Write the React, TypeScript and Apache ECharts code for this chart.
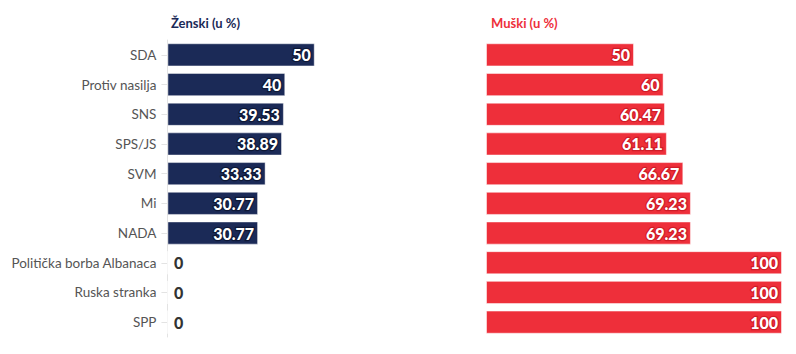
import React, { useEffect, useRef } from "react";
import * as echarts from "echarts";

const categories = [
  "SDA",
  "Protiv nasilja",
  "SNS",
  "SPS/JS",
  "SVM",
  "Mi",
  "NADA",
  "Politička borba Albanaca",
  "Ruska stranka",
  "SPP",
];
const female = [50, 40, 39.53, 38.89, 33.33, 30.77, 30.77, 0, 0, 0];
const male = [50, 60, 60.47, 61.11, 66.67, 69.23, 69.23, 100, 100, 100];
const titles = ["Ženski (u %)", "Muški (u %)"];

const NAVY = "#1b2a57";
const RED = "#ee2f3a";
const FONT = "Lato, 'Noto Sans', sans-serif";

function mkData(vals: number[]) {
  return vals.map((v) =>
    v === 0
      ? {
          value: v,
          label: {
            position: "right",
            color: "#333",
            textBorderWidth: 0,
            distance: 6,
          },
        }
      : { value: v }
  );
}

export default function App() {
  const ref = useRef<HTMLDivElement>(null);
  useEffect(() => {
    if (!ref.current) return;
    const chart = echarts.init(ref.current, undefined, { renderer: "svg" });
    const labelBase = (border: string) => ({
      show: true,
      position: "insideRight",
      distance: 4,
      color: "#fff",
      fontFamily: FONT,
      fontWeight: 900,
      fontSize: 16,
      textBorderColor: border,
      textBorderWidth: 2.5,
      formatter: (p: any) => String(p.value),
    });
    chart.setOption({
      animation: false,
      textStyle: { fontFamily: FONT },
      title: [
        {
          text: titles[0],
          left: 158,
          top: 3,
          textStyle: { color: NAVY, fontSize: 13, fontWeight: "bold", fontFamily: FONT },
        },
        {
          text: titles[1],
          left: 478,
          top: 3,
          textStyle: { color: RED, fontSize: 13, fontWeight: "bold", fontFamily: FONT },
        },
      ],
      grid: [
        { left: 158, width: 296, top: 32, height: 297 },
        { left: 478, width: 296, top: 32, height: 297 },
      ],
      xAxis: [
        { gridIndex: 0, type: "value", min: 0, max: 100, show: false },
        { gridIndex: 1, type: "value", min: 0, max: 100, show: false },
      ],
      yAxis: [
        {
          gridIndex: 0,
          type: "category",
          data: categories,
          inverse: true,
          axisLine: { show: true, lineStyle: { color: "#e3e3e3" } },
          axisTick: { show: true, length: 6, lineStyle: { color: "#e3e3e3" }, alignWithLabel: true },
          axisLabel: { color: "#555", fontSize: 13.5, fontFamily: FONT, margin: 11 },
        },
        {
          gridIndex: 1,
          type: "category",
          data: categories,
          inverse: true,
          axisLine: { show: false },
          axisTick: { show: false },
          axisLabel: { show: false },
        },
      ],
      series: [
        {
          type: "bar",
          xAxisIndex: 0,
          yAxisIndex: 0,
          data: mkData(female),
          barCategoryGap: "22%",
          itemStyle: { color: NAVY, borderColor: "rgba(255,255,255,0.45)", borderWidth: 1 },
          label: labelBase("#0e1836"),
        },
        {
          type: "bar",
          xAxisIndex: 1,
          yAxisIndex: 1,
          data: mkData(male),
          barCategoryGap: "22%",
          itemStyle: { color: RED, borderColor: "rgba(255,255,255,0.5)", borderWidth: 1 },
          label: labelBase("#d01c27"),
        },
      ],
    });
    return () => chart.dispose();
  }, []);
  return <div ref={ref} style={{ width: 780, height: 338 }} />;
}
